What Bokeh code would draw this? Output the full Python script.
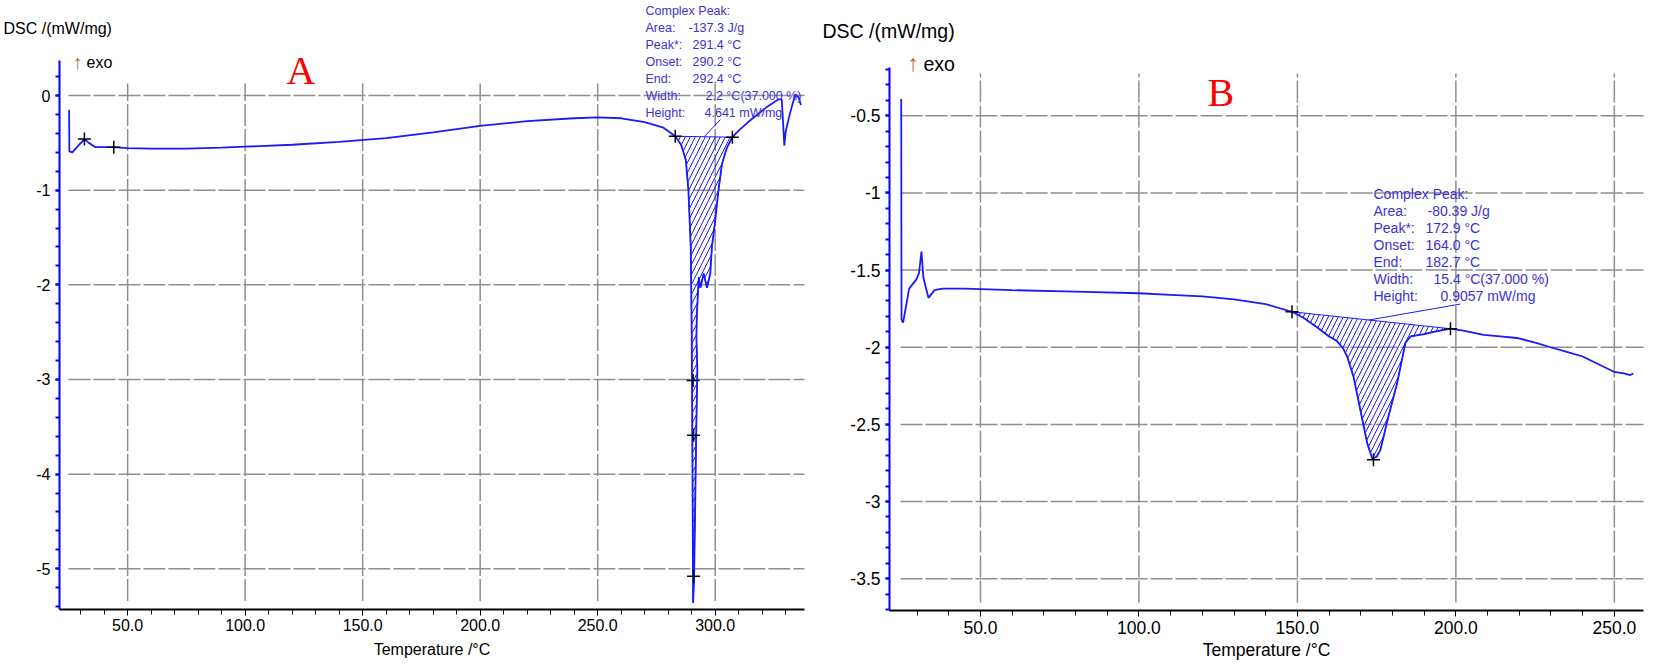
from bokeh.plotting import figure
from bokeh.models import FixedTicker, Label, Range1d
from bokeh.layouts import row
from bokeh.embed import file_html
from bokeh.resources import INLINE

# ---------------- Panel A data ----------------
a_temp = [25.1, 25.2, 26.5, 29.0, 31.6, 33.5, 36.3, 40.0, 44.1, 50.0, 60.0, 75.0, 90.0,
          100.0, 120.0, 140.0, 160.0, 180.0, 200.0, 220.0, 240.0, 250.0, 260.0, 270.0,
          278.0, 283.0, 285.5, 287.5, 288.6, 289.6, 290.0, 290.2, 290.4, 290.6, 291.0,
          291.5, 291.9, 292.4, 292.0, 292.2, 293.0, 293.7, 295.1, 296.5, 297.9, 298.6,
          300.0, 301.4, 302.9, 305.0, 307.3, 310.0, 314.0, 318.0, 322.0, 325.0, 327.0,
          328.3, 328.8, 329.4, 330.0, 331.5, 333.0, 334.2, 335.5, 336.5]
a_dsc = [-0.15, -0.59, -0.60, -0.53, -0.46, -0.50, -0.545, -0.545, -0.545, -0.555, -0.56,
         -0.56, -0.55, -0.54, -0.52, -0.49, -0.45, -0.39, -0.32, -0.27, -0.24, -0.23, -0.24,
         -0.28, -0.34, -0.43, -0.52, -0.68, -1.00, -1.60, -2.50, -3.30, -4.30, -5.36, -5.10,
         -4.30, -3.60, -2.90, -2.55, -2.31, -1.92, -2.03, -1.88, -2.03, -1.88, -1.60, -1.32,
         -1.00, -0.72, -0.55, -0.44, -0.37, -0.28, -0.20, -0.12, -0.07, -0.04, -0.04, -0.25,
         -0.53, -0.38, -0.22, -0.08, 0.01, -0.02, -0.10]
a_limits = [283.0, 307.3]
a_mark_temp = [31.6, 44.1, 283.0, 307.3, 290.6, 290.8, 290.8]
a_mark_dsc = [-0.46, -0.545, -0.43, -0.44, -3.01, -3.59, -5.08]
a_leader_temp = [295.4, 302.2]
a_leader_dsc = [-0.433, -0.254]
a_xticks = [50, 100, 150, 200, 250, 300]
a_xlabels = ["50.0", "100.0", "150.0", "200.0", "250.0", "300.0"]
a_yticks = [0, -1, -2, -3, -4, -5]
a_ylabels = ["0", "-1", "-2", "-3", "-4", "-5"]
a_info_keys = ["Complex Peak:", "Area:", "Peak*:", "Onset:", "End:", "Width:", "Height:"]
a_info_vals = ["", "-137.3 J/g", "291.4 °C", "290.2 °C", "292.4 °C", "2.2 °C(37.000 %)", "4.641 mW/mg"]

# ---------------- Panel B data ----------------
b_temp = [25.0, 25.1, 25.6, 27.5, 29.8, 30.6, 31.4, 32.0, 33.6, 35.5, 38.0, 45.0, 60.0,
          80.0, 100.0, 110.0, 120.0, 130.0, 140.0, 148.3, 152.0, 156.2, 160.0, 162.5,
          164.5, 165.7, 167.7, 169.9, 172.0, 173.6, 175.0, 176.2, 178.7, 181.5, 183.0,
          184.1, 185.7, 190.0, 193.0, 198.3, 202.0, 208.7, 214.0, 219.3, 225.0, 229.9,
          235.0, 240.0, 245.0, 250.0, 253.0, 255.0, 256.0]
b_dsc = [-0.39, -1.82, -1.84, -1.62, -1.56, -1.52, -1.38, -1.55, -1.68, -1.63, -1.62,
         -1.62, -1.63, -1.64, -1.65, -1.66, -1.67, -1.69, -1.72, -1.77, -1.81, -1.87,
         -1.93, -1.96, -2.01, -2.06, -2.19, -2.41, -2.62, -2.72, -2.71, -2.665, -2.45,
         -2.23, -2.08, -1.97, -1.93, -1.915, -1.90, -1.88, -1.89, -1.92, -1.93, -1.94,
         -1.97, -2.00, -2.03, -2.06, -2.11, -2.16, -2.17, -2.18, -2.17]
b_limits = [148.3, 198.3]
b_mark_temp = [148.3, 174.0, 198.3]
b_mark_dsc = [-1.77, -2.73, -1.88]
b_leader_temp = [172.4, 201.4]
b_leader_dsc = [-1.824, -1.72]
b_xticks = [50, 100, 150, 200, 250]
b_xlabels = ["50.0", "100.0", "150.0", "200.0", "250.0"]
b_yticks = [-0.5, -1, -1.5, -2, -2.5, -3, -3.5]
b_ylabels = ["-0.5", "-1", "-1.5", "-2", "-2.5", "-3", "-3.5"]
b_info_keys = ["Complex Peak:", "Area:", "Peak*:", "Onset:", "End:", "Width:", "Height:"]
b_info_vals = ["", "-80.39 J/g", "172.9 °C", "164.0 °C", "182.7 °C", "15.4 °C(37.000 %)", "0.9057 mW/mg"]

FONT = "Liberation Sans"
CURVE = "#1a1aff"
INFO = "#3c32d2"
GRID = "#8f8f8f"


def make_panel(temp, dsc, limits, mtemp, mdsc, ltemp, ldsc, xticks, xlabels, yticks, ylabels,
               ax_x, ax_y, view_x, view_y, ystep_minor, keys, vals, letter, geom, fonts):
    (W, H, grid_x0, grid_y0, grid_y1, info_xy, vals_x, letter_xy, dsc_xy, exo_xy) = geom
    (f_tick, f_title, f_dsc, f_info, f_arrow, t_standoff, l_standoff, exo_dx) = fonts
    p = figure(width=W, height=H, x_range=Range1d(*view_x), y_range=Range1d(*view_y),
               output_backend="svg", toolbar_location=None,
               min_border_left=0, min_border_right=0, min_border_top=0, min_border_bottom=0)
    p.outline_line_color = None
    p.xgrid.visible = False
    p.ygrid.visible = False

    # dashed grid as segments on tick positions
    p.segment(x0=[grid_x0] * len(yticks), x1=[ax_x[1]] * len(yticks), y0=yticks, y1=yticks,
              line_color=GRID, line_width=1.5, line_dash="22 3")
    p.segment(x0=xticks, x1=xticks, y0=[grid_y0] * len(xticks), y1=[grid_y1] * len(xticks),
              line_color=GRID, line_width=1.5, line_dash="22 3")

    # hatched integration area
    ht = [t for t in temp if limits[0] <= t <= limits[1]]
    hd = [d for t, d in zip(temp, dsc) if limits[0] <= t <= limits[1]]
    p.patch(ht, hd, fill_alpha=0, line_color=CURVE, line_width=1,
            hatch_pattern="/", hatch_color=CURVE, hatch_scale=10, hatch_weight=1)

    p.line(temp, dsc, line_color=CURVE, line_width=1.8)
    p.line(ltemp, ldsc, line_color=CURVE, line_width=1)
    p.scatter(mtemp, mdsc, marker="cross", size=13, line_color="black", line_width=1.5)

    # axes placed at fixed data locations, frame covers the whole figure
    p.xaxis.fixed_location = ax_y[0]
    p.xaxis.bounds = ax_x
    minor_x = [t for t in range(0, 400, 10) if ax_x[0] <= t <= ax_x[1]]
    p.xaxis.ticker = FixedTicker(ticks=xticks, minor_ticks=minor_x)
    p.xaxis.major_label_overrides = {t: l for t, l in zip(xticks, xlabels)}
    p.xaxis.axis_label = "Temperature /°C"
    p.xaxis.axis_line_color = "black"
    p.xaxis.axis_line_width = 2
    p.xaxis.major_tick_line_color = "black"
    p.xaxis.minor_tick_line_color = "black"
    p.xaxis.major_tick_out = 6
    p.xaxis.major_tick_in = 0
    p.xaxis.minor_tick_out = 5
    p.xaxis.minor_tick_in = 0
    p.xaxis.major_label_standoff = l_standoff
    p.xaxis.axis_label_standoff = t_standoff
    p.xaxis.major_label_text_font = FONT
    p.xaxis.major_label_text_font_size = f_tick
    p.xaxis.major_label_text_color = "black"
    p.xaxis.axis_label_text_font = FONT
    p.xaxis.axis_label_text_font_size = f_title
    p.xaxis.axis_label_text_font_style = "normal"
    p.xaxis.axis_label_text_color = "black"

    minor_y = []
    v = min(yticks) - 1
    while v <= max(yticks) + 1:
        if ax_y[0] <= v <= ax_y[1]:
            minor_y.append(round(v, 4))
        v += ystep_minor
    p.yaxis.fixed_location = ax_x[0]
    p.yaxis.bounds = ax_y
    p.yaxis.ticker = FixedTicker(ticks=yticks, minor_ticks=minor_y)
    p.yaxis.major_label_overrides = {t: l for t, l in zip(yticks, ylabels)}
    p.yaxis.axis_line_color = "#0000ff"
    p.yaxis.axis_line_width = 2
    p.yaxis.major_tick_line_color = "#0000ff"
    p.yaxis.minor_tick_line_color = "#0000ff"
    p.yaxis.major_tick_line_width = 2
    p.yaxis.minor_tick_line_width = 2
    p.yaxis.major_tick_out = 4
    p.yaxis.major_tick_in = 0
    p.yaxis.minor_tick_out = 4
    p.yaxis.minor_tick_in = 0
    p.yaxis.major_label_standoff = 5
    p.yaxis.major_label_text_font = FONT
    p.yaxis.major_label_text_font_size = f_tick
    p.yaxis.major_label_text_color = "black"

    def lab(text, x, y, color="black", size="16px", font=FONT):
        p.add_layout(Label(x=x, y=y, x_units="screen", y_units="screen", text=text,
                           text_color=color, text_font=font, text_font_size=size,
                           text_baseline="middle", text_align="left"))

    lab("DSC /(mW/mg)", dsc_xy[0], dsc_xy[1], size=f_dsc)
    lab("↑", exo_xy[0], exo_xy[1] + 1, color="#b8702a", size=f_arrow)
    lab("exo", exo_xy[0] + exo_dx, exo_xy[1], size=f_dsc)
    lab(letter, letter_xy[0], letter_xy[1], color="#ff0000", size="40px", font="Liberation Serif")
    for i, (k, vv) in enumerate(zip(keys, vals)):
        y = info_xy[1] - 17.1 * i
        lab(k, info_xy[0], y, color=INFO, size=f_info)
        if vv:
            lab(vv, vals_x[i], y, color=INFO, size=f_info)
    return p


# geometry (layout only): figure size, grid extents, label screen positions
geom_a = (818, 667, 24.8, -5.34, 0.127,
          (645, 657), [0, 688, 692, 692, 692, 705, 704], (286, 597), (3, 639), (72, 605))
geom_b = (836, 667, 24.8, -3.655, -0.225,
          (555, 474), [0, 609, 607, 607, 607, 615, 622], (389, 575), (4, 637), (89, 604))
fonts_a = ("16px", "16px", "16px", "12.5px", "20px", 6, 4, 14)
fonts_b = ("17.5px", "17.5px", "19.5px", "14px", "23px", 3, 4, 16)

pa = make_panel(a_temp, a_dsc, a_limits, a_mark_temp, a_mark_dsc, a_leader_temp, a_leader_dsc,
                a_xticks, a_xlabels, a_yticks, a_ylabels,
                (21.0, 338.0), (-5.43, 0.37), (-4.096, 343.95), (-6.043, 1.0043), 0.2,
                a_info_keys, a_info_vals, "A", geom_a, fonts_a)
pb = make_panel(b_temp, b_dsc, b_limits, b_mark_temp, b_mark_dsc, b_leader_temp, b_leader_dsc,
                b_xticks, b_xlabels, b_yticks, b_ylabels,
                (21.3, 259.2), (-3.707, -0.186), (-1.097, 262.67), (-4.0759, 0.2477), 0.1,
                b_info_keys, b_info_vals, "B", geom_b, fonts_b)

layout = row(pa, pb)
open("out.html", "w").write(file_html(layout, INLINE))
